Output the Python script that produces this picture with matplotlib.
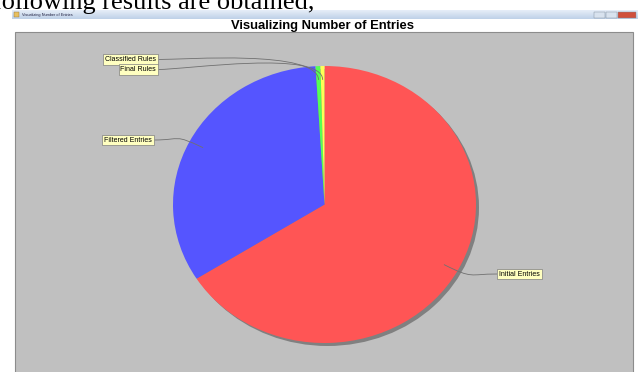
import numpy as np
import matplotlib
matplotlib.use('Agg')
from matplotlib import pyplot as plt
from matplotlib.patches import Rectangle, Ellipse, PathPatch
from matplotlib.path import Path

# data
labels = ['Initial Entries', 'Filtered Entries', 'Classified Rules', 'Final Rules']
entries = [1400, 701, 11, 9]
colors = ['#FF5555', '#5555FF', '#55FF55', '#FFFF55']

W, H = 638, 372
cx, cy, rx, ry = 324.5, 204.5, 151.5, 138.5   # pie centre / radii in pixels

fig = plt.figure(figsize=(W / 100, H / 100), dpi=100)
fig.patch.set_facecolor('white')

# background: document text, window title bar, plot area
ax = fig.add_axes([0, 0, 1, 1])
ax.set_xlim(0, W)
ax.set_ylim(H, 0)
ax.axis('off')

ax.text(-7, 8.5, 'following results are obtained,', family='Liberation Serif',
        fontsize=19, ha='left', va='baseline', color='black')

grad = np.linspace(0, 1, 20).reshape(-1, 1)
ax.imshow(grad, cmap=matplotlib.colors.LinearSegmentedColormap.from_list(
    'bar', ['#E6EEF8', '#BFD1E8']), extent=(12, W, 19.5, 10.5), aspect='auto', zorder=1)
ax.add_patch(Rectangle((14, 12), 5, 5, facecolor='#E8C060', edgecolor='#8A7040', lw=0.3, zorder=2))
ax.text(22, 15, 'Visualizing Number of Entries', fontsize=2.8, family='Liberation Sans',
        va='center', ha='left', color='#202040', zorder=2)
for x0, w, fc in [(594, 11, '#D8E2EE'), (606, 11, '#D8E2EE'), (618, 18, '#D0503C')]:
    ax.add_patch(Rectangle((x0, 11.5), w, 6.5, facecolor=fc, edgecolor='#7A8898', lw=0.3, zorder=2))

ax.text(322.5, 28.5, 'Visualizing Number of Entries', family='Liberation Sans',
        fontweight='bold', fontsize=9.4, ha='center', va='baseline', color='black')

ax.add_patch(Rectangle((15, 31.5), 618, 345, facecolor='#C0C0C0', edgecolor='#8C8C8C', lw=0.8))

# pie, on its own axes so it can be an ellipse
pax = fig.add_axes([0, 0, 1, 1])
pax.patch.set_visible(False)
wedges, _ = pax.pie(entries, colors=colors, startangle=90, counterclock=False,
                    radius=1, wedgeprops=dict(linewidth=0))
pax.set_aspect('auto')
pax.set_xlim((0 - cx) / rx, (W - cx) / rx)
pax.set_ylim((cy - H) / ry, (cy - 0) / ry)
pax.axis('off')
pax.add_patch(Ellipse((3 / rx, -3 / ry), 2, 2, facecolor='#808080', lw=0, zorder=0))

# labels with curved leader lines
lax = fig.add_axes([0, 0, 1, 1])
lax.patch.set_visible(False)
lax.set_xlim(0, W)
lax.set_ylim(H, 0)
lax.axis('off')

label_pos = {'Initial Entries': (497, 274, 'left'),
             'Filtered Entries': (154, 140, 'right'),
             'Classified Rules': (158, 59.5, 'right'),
             'Final Rules': (158, 69.5, 'right')}

frac = np.array(entries) / np.sum(entries)
before = np.concatenate([[0], np.cumsum(frac)[:-1]])
mids = np.deg2rad(90 - 360 * (before + frac / 2))

for name, a in zip(labels, mids):
    lx, ly, side = label_pos[name]
    p0 = (cx + 0.9 * rx * np.cos(a), cy - 0.9 * ry * np.sin(a))
    p1 = (cx + 1.12 * rx * np.cos(a), cy - 1.12 * ry * np.sin(a))
    off = 28 if side == 'right' else -28
    p2 = (lx + off, ly)
    p3 = (lx, ly)
    path = Path([p0, p1, p2, p3], [Path.MOVETO, Path.CURVE4, Path.CURVE4, Path.CURVE4])
    lax.add_patch(PathPatch(path, facecolor='none', edgecolor='#707070', lw=0.6))
    lax.text(lx + (-2 if side == 'right' else 2), ly, name, ha=side, va='center',
             family='Liberation Sans', fontsize=5, color='black',
             bbox=dict(boxstyle='square,pad=0.25', facecolor='#FFFFC0',
                       edgecolor='#808080', lw=0.5))

fig.savefig('out.png', dpi=100)
